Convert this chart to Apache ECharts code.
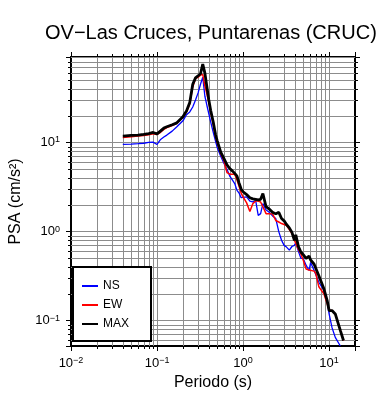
<!DOCTYPE html>
<html>
<head>
    <meta charset="utf-8">
    <title>PSA - CRUC</title>
    <script src="https://cdn.jsdelivr.net/npm/echarts@6/dist/echarts.min.js"></script>
    <style>
        html, body { margin: 0; padding: 0; background: #fff; }
        #chart { width: 390px; height: 400px; }
    </style>
</head>
<body>
<div id="chart"></div>
<script>
    // periodos (s) y PSA (cm/s2)
    var periodos = [
        0.04, 0.05, 0.06, 0.07, 0.08, 0.09, 0.1, 0.11, 0.12, 0.13,
        0.15, 0.17, 0.2, 0.22, 0.24, 0.26, 0.28, 0.3, 0.32, 0.34,
        0.36, 0.38, 0.4, 0.42, 0.45, 0.48, 0.5, 0.55, 0.6, 0.65,
        0.7, 0.75, 0.8, 0.85, 0.9, 0.95, 1.0, 1.1, 1.2, 1.3,
        1.4, 1.5, 1.6, 1.7, 1.85, 2.0, 2.2, 2.4, 2.6, 2.8,
        3.0, 3.2, 3.45, 3.7, 3.95, 4.1, 4.4, 4.7, 5.0, 5.4,
        5.85, 6.1, 6.7, 7.0, 7.6, 8.7, 9.5, 10, 10.8, 11.8,
        13.5, 14.7
    ]
    var psaNS = [
        9.5, 9.6, 9.7, 9.8, 10.0, 10.1, 9.5, 10.8, 11.5, 12.1,
        13.4, 15.0, 17.5, 20.5, 22, 25, 30, 36, 45, 54,
        33, 26, 21, 17, 13, 10.2, 8.8, 7, 5.8, 5.0,
        4.2, 3.8, 3.46, 2.9, 2.7, 2.4, 2.34, 2.45, 2.2, 2.15,
        2.24, 1.52, 1.59, 2.06, 1.75, 1.66, 1.5, 1.4, 1.0, 0.8,
        0.7, 0.67, 0.62, 0.68, 0.70, 0.75, 0.6, 0.5, 0.5, 0.42,
        0.366, 0.45, 0.366, 0.33, 0.27, 0.218, 0.168, 0.119, 0.084, 0.065,
        0.052, '-'
    ]
    var psaEW = [
        11.4, 11.6, 11.8, 12.0, 12.2, 12.5, 12.3, 13.0, 14.0, 14.7,
        15.5, 16.4, 19.2, 22, 27, 42, 52, 54, 57, 58,
        43, 35, 28, 22, 16, 11.5, 10, 7.5, 6.2, 4.6,
        4.4, 4.4, 4.4, 3.8, 3.2, 2.7, 2.45, 2.1, 1.68, 2.06,
        2.2, 2.2, 2.15, 1.9, 1.59, 1.59, 1.58, 1.33, 1.28, 1.23,
        1.2, 1.17, 1.05, 0.95, 0.8, 0.8, 0.63, 0.56, 0.48, 0.38,
        0.37, 0.366, 0.36, 0.34, 0.24, 0.2, 0.155, 0.13, 0.13, 0.119,
        0.078, 0.06
    ]
    var psaMAX = [
        11.8, 12.0, 12.1, 12.3, 12.6, 12.95, 12.5, 13.5, 14.5, 15.0,
        15.8, 16.6, 19.4, 22.5, 28, 45, 53, 56, 59, 76,
        60, 42, 30, 23, 17, 12.1, 10.5, 7.8, 6.6, 5.6,
        5.1, 4.8, 4.5, 4.2, 3.5, 3.0, 2.8, 2.6, 2.4, 2.33,
        2.3, 2.27, 2.3, 2.67, 1.9, 1.8, 1.65, 1.58, 1.65, 1.4,
        1.32, 1.2, 1.1, 0.98, 0.8, 0.92, 0.68, 0.59, 0.55, 0.5,
        0.53, 0.48, 0.43, 0.44, 0.32, 0.228, 0.168, 0.13, 0.13, 0.119,
        0.078, 0.06
    ]
    var decadas = [0.01, 0.1, 1, 10]

    var xMin = 0.01, xMax = 20
    var yMin = 0.052, yMax = 91
    var fuente = '"Liberation Sans", Arial, Helvetica, sans-serif'

    function pares(valores) {
        return periodos.map(function (t, i) {
            return [t, valores[i]]
        })
    }

    // etiqueta 10^n solo en potencias de diez
    function etiqueta(v) {
        var l = Math.log(v) / Math.LN10
        var e = Math.round(l)
        if (Math.abs(l - e) > 1e-6) return ''
        return '{b|10}{s|' + (e < 0 ? '\u2212' + (-e) : e) + '}'
    }

    var estiloEtiqueta = {
        b: {fontSize: 13, fontFamily: fuente, color: '#000', lineHeight: 14},
        s: {fontSize: 9, fontFamily: fuente, color: '#000', lineHeight: 8, verticalAlign: 'top'}
    }
    var marco = {show: true, onZero: false, lineStyle: {color: '#000', width: 2}}
    var marcas = {show: true, inside: false, length: 5, lineStyle: {color: '#000', width: 1}}
    var rejilla = {show: true, lineStyle: {color: '#8c8c8c', width: 1}}

    var chart = echarts.init(document.getElementById('chart'))

    chart.setOption({
        animation: false,
        backgroundColor: '#fff',
        title: {
            text: 'OV\u2212Las Cruces, Puntarenas (CRUC)',
            left: 45,
            top: 23,
            padding: 0,
            textStyle: {fontSize: 20, fontWeight: 'normal', color: '#000', fontFamily: fuente}
        },
        grid: {left: 67, right: 35, top: 57, bottom: 54, containLabel: false},
        legend: {
            data: ['NS', 'EW', 'MAX'],
            orient: 'vertical',
            left: 73,
            top: 267,
            padding: [12, 22, 10, 9],
            itemGap: 5,
            itemWidth: 16,
            itemHeight: 2,
            icon: 'rect',
            backgroundColor: '#fff',
            borderColor: '#000',
            borderWidth: 2,
            textStyle: {fontSize: 12, color: '#000', fontFamily: fuente, lineHeight: 14}
        },
        xAxis: [{
            type: 'log',
            logBase: 10,
            min: xMin,
            max: xMax,
            position: 'bottom',
            axisLine: marco,
            axisTick: marcas,
            splitLine: rejilla,
            axisLabel: {formatter: etiqueta, rich: estiloEtiqueta, margin: 10},
            name: 'Periodo (s)',
            nameLocation: 'middle',
            nameGap: 29,
            nameTextStyle: {fontSize: 16, color: '#000', fontFamily: fuente}
        }, {
            type: 'log',
            logBase: 10,
            min: xMin,
            max: xMax,
            position: 'top',
            axisLine: marco,
            axisTick: marcas,
            splitLine: {show: false},
            axisLabel: {show: false}
        }],
        yAxis: [{
            type: 'log',
            logBase: 10,
            min: yMin,
            max: yMax,
            position: 'left',
            axisLine: marco,
            axisTick: marcas,
            splitLine: rejilla,
            axisLabel: {formatter: etiqueta, rich: estiloEtiqueta, margin: 11},
            name: 'PSA (cm/s\u00b2)',
            nameLocation: 'middle',
            nameGap: 47,
            nameTextStyle: {fontSize: 16, color: '#000', fontFamily: fuente}
        }, {
            type: 'log',
            logBase: 10,
            min: yMin,
            max: yMax,
            position: 'right',
            axisLine: marco,
            axisTick: marcas,
            splitLine: {show: false},
            axisLabel: {show: false}
        }],
        series: [{
            name: 'NS',
            type: 'line',
            data: pares(psaNS),
            showSymbol: false,
            symbol: 'none',
            color: '#0000ff',
            lineStyle: {color: '#0000ff', width: 1.3}
        }, {
            name: 'EW',
            type: 'line',
            data: pares(psaEW),
            showSymbol: false,
            symbol: 'none',
            color: '#ff0000',
            lineStyle: {color: '#ff0000', width: 1.5}
        }, {
            name: 'MAX',
            type: 'line',
            data: pares(psaMAX),
            showSymbol: false,
            symbol: 'none',
            color: '#000000',
            lineStyle: {color: '#000000', width: 2.8}
        }]
    })

    // rejilla y marcas menores (2..9 de cada decada)
    function linea(x1, y1, x2, y2, color) {
        return {
            type: 'line',
            silent: true,
            z: 1,
            shape: {x1: x1, y1: y1, x2: x2, y2: y2},
            style: {stroke: color, lineWidth: 1}
        }
    }

    function lineasMenores() {
        var g = []
        var izq = chart.convertToPixel({xAxisIndex: 0}, xMin)
        var der = chart.convertToPixel({xAxisIndex: 0}, xMax)
        var abajo = chart.convertToPixel({yAxisIndex: 0}, yMin)
        var arriba = chart.convertToPixel({yAxisIndex: 0}, yMax)
        decadas.forEach(function (d) {
            for (var m = 2; m <= 9; m++) {
                var v = d * m
                if (v > xMin && v < xMax) {
                    var px = Math.round(chart.convertToPixel({xAxisIndex: 0}, v)) + 0.5
                    g.push(linea(px, arriba, px, abajo, '#8c8c8c'))
                    g.push(linea(px, abajo, px, abajo + 3, '#000'))
                    g.push(linea(px, arriba, px, arriba - 3, '#000'))
                }
                if (v > yMin && v < yMax) {
                    var py = Math.round(chart.convertToPixel({yAxisIndex: 0}, v)) + 0.5
                    g.push(linea(izq, py, der, py, '#8c8c8c'))
                    g.push(linea(izq, py, izq - 3, py, '#000'))
                    g.push(linea(der, py, der + 3, py, '#000'))
                }
            }
        })
        chart.setOption({graphic: g})
    }

    lineasMenores()
</script>
</body>
</html>
